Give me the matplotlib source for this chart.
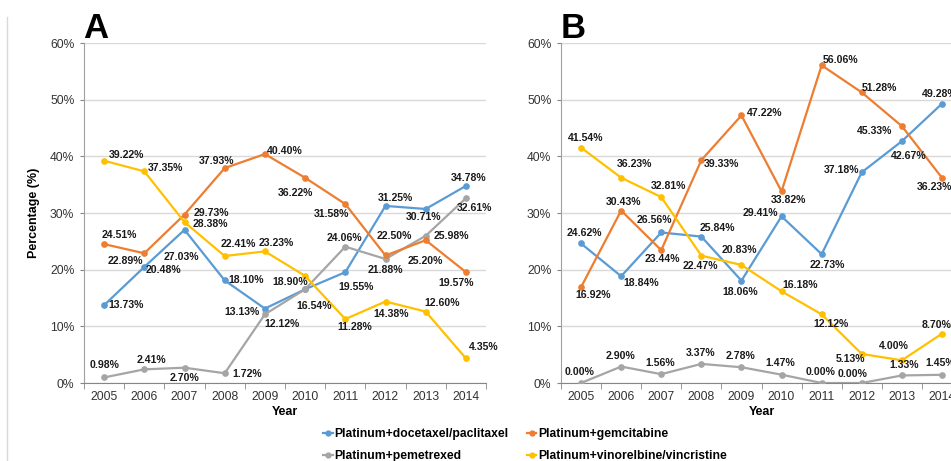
import matplotlib
matplotlib.use("Agg")
import matplotlib.pyplot as plt
from matplotlib.lines import Line2D
import numpy as np

plt.rcParams['font.family'] = ['Liberation Sans', 'DejaVu Sans']

years = ['2005', '2006', '2007', '2008', '2009', '2010', '2011', '2012', '2013', '2014']
series_names = ['Platinum+docetaxel/paclitaxel', 'Platinum+pemetrexed',
                'Platinum+gemcitabine', 'Platinum+vinorelbine/vincristine']

# panel A values (%)
a_docetaxel = [13.73, 20.48, 27.03, 18.10, 13.13, 16.54, 19.55, 31.25, 30.71, 34.78]
a_pemetrexed = [0.98, 2.41, 2.70, 1.72, 12.12, 16.54, 24.06, 21.88, 25.98, 32.61]
a_gemcitabine = [24.51, 22.89, 29.73, 37.93, 40.40, 36.22, 31.58, 22.50, 25.20, 19.57]
a_vinorelbine = [39.22, 37.35, 28.38, 22.41, 23.23, 18.90, 11.28, 14.38, 12.60, 4.35]

# panel B values (%)
b_docetaxel = [24.62, 18.84, 26.56, 25.84, 18.06, 29.41, 22.73, 37.18, 42.67, 49.28]
b_pemetrexed = [0.00, 2.90, 1.56, 3.37, 2.78, 1.47, 0.00, 0.00, 1.33, 1.45]
b_gemcitabine = [16.92, 30.43, 23.44, 39.33, 47.22, 33.82, 56.06, 51.28, 45.33, 36.23]
b_vinorelbine = [41.54, 36.23, 32.81, 22.47, 20.83, 16.18, 12.12, 5.13, 4.00, 8.70]

colors = ['#5B9BD5', '#A5A5A5', '#ED7D31', '#FFC000']

# label offsets in pixels (dx right, dy down), None = no label
a_off = [
    [(22, 0), (19, 3), (-3, 27), (21, 0), (-23, 3), (9, 17), (11, 15), (10, -8), (-2, 8), (3, -8)],
    [(0, -12), (7, -9), (0, 10), (22, 1), (17, 10), None, (-1, -9), (0, 11), (26, 0), (9, 10)],
    [(15, -9), (-19, 8), (27, -2), (-8, -7), (20, -3), (-10, 15), (-14, 10), (9, -20), (0, 21), (-10, 11)],
    [(22, -6), (21, -3), (26, 2), (14, -12), (11, -8), (-15, 6), (9, 8), (6, 12), (16, -9), (18, -11)],
]
b_off = [
    [(3, -10), (20, 7), (-7, -12), (16, -9), (-1, 11), (-21, -3), (6, 11), (-20, -2), (7, 15), (-2, -10)],
    [(-1, -11), (-1, -11), (-1, -11), (-1, -11), (-1, -11), (-1, -12), (-1, -11), (-9, -9), (2, -10), (-2, -12)],
    [(12, 8), (2, -9), (1, 9), (20, 4), (23, -2), (7, 9), (19, -5), (18, -4), (-27, 5), (-7, 9)],
    [(5, -10), (13, -14), (7, -11), (-1, 10), (-2, -15), (19, -6), (9, 10), (-11, 5), (-8, -14), (-5, -9)],
]

W, H = 951, 461
fig = plt.figure(figsize=(W / 100, H / 100), dpi=100)

# thin panel border on the far left
fig.add_artist(Line2D([7 / W, 7 / W], [0, 1 - 17 / H], color='#D9D9D9', lw=1))


def draw_panel(ax, data, offsets, letter):
    x = np.arange(len(years))
    for vals, col, offs in zip(data, colors, offsets):
        ax.plot(x, vals, color=col, lw=1.6, marker='o', ms=3.8, zorder=3)
        for xi, v, off in zip(x, vals, offs):
            if off is None:
                continue
            ax.annotate('%.2f%%' % v, (xi, v), xytext=(off[0], -off[1]),
                        textcoords='offset pixels', ha='center', va='center',
                        fontsize=7.6, fontweight='bold', color='#1a1a1a', zorder=4)
    ax.set_xlim(-0.5, 9.5)
    ax.set_ylim(0, 60)
    ax.set_yticks(np.arange(0, 61, 10))
    ax.set_yticklabels(['%d%%' % t for t in range(0, 61, 10)])
    ax.set_xticks(x)
    ax.set_xticklabels(years)
    ax.set_xticks(np.arange(-0.5, 10, 1), minor=True)
    ax.tick_params(axis='x', which='major', length=0, pad=6, labelsize=8.7, labelcolor='#333333')
    ax.tick_params(axis='x', which='minor', length=4, color='#868686', direction='out')
    ax.tick_params(axis='y', length=3, color='#868686', pad=4, labelsize=8.7, labelcolor='#333333')
    ax.grid(axis='y', color='#D9D9D9', lw=1)
    ax.set_axisbelow(True)
    for s in ['top', 'right']:
        ax.spines[s].set_visible(False)
    ax.spines['left'].set_color('#A0A0A0')
    ax.spines['bottom'].set_color('#868686')
    ax.set_xlabel('Year', fontsize=9, fontweight='bold', labelpad=2)
    ax.text(-0.002, 1 + 5 / 340, letter, transform=ax.transAxes, fontsize=25,
            fontweight='bold', ha='left', va='baseline')


ax_a = fig.add_axes([84 / W, 78 / H, 402 / W, 340 / H])
draw_panel(ax_a, [a_docetaxel, a_pemetrexed, a_gemcitabine, a_vinorelbine], a_off, 'A')
ax_a.set_ylabel('Percentage (%)', fontsize=9, fontweight='bold', labelpad=7)

ax_b = fig.add_axes([561 / W, 78 / H, 401 / W, 340 / H])
draw_panel(ax_b, [b_docetaxel, b_pemetrexed, b_gemcitabine, b_vinorelbine], b_off, 'B')

handles = [Line2D([], [], color=c, lw=1.6, marker='o', ms=3.5) for c in colors]
fig.legend(handles, series_names, ncol=2, loc='upper left',
           bbox_to_anchor=(323 / W, 1 - 428 / H), frameon=False,
           prop={'size': 8.7, 'weight': 'bold'}, handlelength=0.8, handletextpad=0.15,
           columnspacing=1.5, labelspacing=0.85, borderpad=0, borderaxespad=0)

fig.savefig('out.png', dpi=100)
